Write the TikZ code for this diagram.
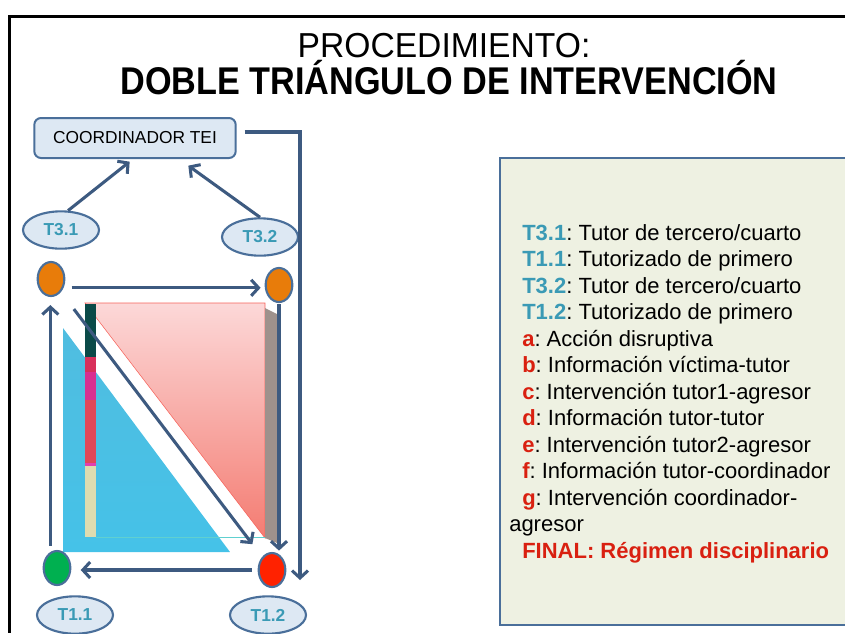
\documentclass[tikz,border=0pt]{standalone}
\usepackage{fontspec}
\setmainfont{Liberation Sans}
\usetikzlibrary{arrows.meta,shapes.geometric}
\frenchspacing

\definecolor{azul}{HTML}{3D5A80}
\definecolor{bordeazul}{HTML}{4A6F9A}
\definecolor{celeste}{HTML}{DDE8F3}
\definecolor{turquesa}{HTML}{3A9AB5}
\definecolor{rojo}{HTML}{D92010}
\definecolor{naranja}{HTML}{E87C0A}
\definecolor{verde}{HTML}{00B050}
\definecolor{rojovivo}{HTML}{FF2200}
\definecolor{fondoley}{HTML}{EEF1E2}
\definecolor{rosa1}{HTML}{FCD8D8}
\definecolor{rosa2}{HTML}{F47C72}
\definecolor{cian1}{HTML}{50BDE0}
\definecolor{cian2}{HTML}{1FA5D2}
\definecolor{cian3}{HTML}{45C2E8}
\definecolor{sombra}{HTML}{9E918C}
\definecolor{franja1}{HTML}{0A4A48}
\definecolor{franja2}{HTML}{D8305A}
\definecolor{franja3}{HTML}{D83090}
\definecolor{franja4}{HTML}{E04858}
\definecolor{franja5}{HTML}{E040B0}
\definecolor{franja6}{HTML}{DEDCB0}
\definecolor{linea}{HTML}{60D0D0}

\begin{document}
\begin{tikzpicture}[x=0.75pt,y=-0.75pt,
    flecha/.style={draw=azul, line width=2.3pt, -{Straight Barb[length=5.5pt,width=12pt]}},
    tutor/.style={ellipse, draw=bordeazul, line width=1.6pt, fill=celeste, text=turquesa,
      font=\bfseries\fontsize{13}{15}\selectfont, minimum width=57pt, minimum height=28pt, inner sep=0pt},
    alumno/.style={ellipse, draw=bordeazul, line width=1.6pt, minimum width=20pt,
      minimum height=25.5pt, inner sep=0pt}]
    \useasboundingbox (0,0) rectangle (845,633);

    % Frame
    \draw[line width=2.25pt] (845,16) -- (9,16) -- (9,633);

    % Title
    \node[anchor=base] (titulo) at (444,57)
      {\fontsize{26}{30}\selectfont\scalebox{0.97}[1]{PROCEDIMIENTO:}};
    \node[anchor=base] (subtitulo) at (449,94)
      {\bfseries\fontsize{29}{32}\selectfont\scalebox{0.885}[1]{DOBLE TRIÁNGULO DE INTERVENCIÓN}};

    % Triangles
    \shade[top color=rosa1, bottom color=rosa2] (85,303) -- (265,303) -- (265,538) -- cycle;
    \draw[rosa2!80!red, line width=0.4pt] (85,303) -- (265,303) -- (265,538) -- cycle;
    \fill[sombra] (265,308) -- (277,314) -- (277,543) -- (265,538) -- cycle;
    \shade[top color=cian1, middle color=cian2, bottom color=cian3] (63,328) -- (63,552) -- (230,552) -- cycle;

    % Strip
    \fill[franja1] (85,304) rectangle (96,357);
    \fill[franja2] (85,357) rectangle (96,372);
    \fill[franja3] (85,372) rectangle (96,400);
    \fill[franja4] (85,400) rectangle (96,463);
    \fill[franja5] (85,463) rectangle (96,466);
    \fill[franja6] (85,466) rectangle (96,537);
    \draw[linea, line width=0.6pt] (96,537) -- (265,537);

    % Coordinator and tutors
    \node[draw=bordeazul, line width=1.5pt, fill=celeste, rounded corners=5pt,
      minimum width=151pt, minimum height=30pt, font=\fontsize{13}{15}\selectfont] (coord) at (135,138) {COORDINADOR TEI};
    \node[tutor] (t31) at (61,230) {T3.1};
    \node[tutor] (t32) at (260,237) {T3.2};
    \node[tutor] (t11) at (75,615) {T1.1};
    \node[tutor] (t12) at (268,615) {T1.2};

    \node[alumno, fill=naranja] (o1) at (51,279) {};
    \node[alumno, fill=naranja] (o2) at (279,285) {};
    \node[alumno, fill=verde] (g) at (57,568) {};
    \node[alumno, fill=rojovivo] (r) at (272,570) {};
    \coordinate (fin) at (300,580);

    % Arrows
    \draw[flecha] (t31.70) -- ([xshift=-4pt,yshift=-2pt]coord.south);
    \draw[flecha] (t32.north) -- ([xshift=40pt,yshift=-5pt]coord.south);
    \draw[flecha, shorten <=6pt, shorten >=3pt] (o1.-35) -- (o1.-35 -| o2.west);
    \draw[flecha, shorten <=3pt, shorten >=6pt] ([xshift=-5pt]g.north) -- ([xshift=-5pt]g.north |- o1.south);
    \draw[flecha, shorten <=1pt, shorten >=1pt] (o2.south) -- (o2.south |- r.north);
    \draw[flecha, shorten <=4.5pt, shorten >=7pt] (r.west) -- (r.west -| g.east);
    \draw[flecha, shorten <=16pt, shorten >=12pt] (o1) -- (r);
    \draw[flecha] ([xshift=6pt,yshift=4.5pt]coord.east) -| (fin);

    % Legend
    \fill[fondoley, draw=bordeazul, line width=1.5pt] (500,158) rectangle (852,625);
    \node[anchor=north west, inner sep=0pt, align=left, font=\fontsize{16.5}{19.875}\selectfont] (leyenda) at (509,224)
      {\hspace*{9.75pt}{\color{turquesa}\bfseries T3.1}: Tutor de tercero/cuarto\\
       \hspace*{9.75pt}{\color{turquesa}\bfseries T1.1}: Tutorizado de primero\\
       \hspace*{9.75pt}{\color{turquesa}\bfseries T3.2}: Tutor de tercero/cuarto\\
       \hspace*{9.75pt}{\color{turquesa}\bfseries T1.2}: Tutorizado de primero\\
       \hspace*{9.75pt}{\color{rojo}\bfseries a}: Acción disruptiva\\
       \hspace*{9.75pt}{\color{rojo}\bfseries b}: Información víctima-tutor\\
       \hspace*{9.75pt}{\color{rojo}\bfseries c}: Intervención tutor1-agresor\\
       \hspace*{9.75pt}{\color{rojo}\bfseries d}: Información tutor-tutor\\
       \hspace*{9.75pt}{\color{rojo}\bfseries e}: Intervención tutor2-agresor\\
       \hspace*{9.75pt}{\color{rojo}\bfseries f}: Información tutor-coordinador\\
       \hspace*{9.75pt}{\color{rojo}\bfseries g}: Intervención coordinador-\\
       agresor\\
       \hspace*{9.75pt}{\color{rojo}\bfseries FINAL: Régimen disciplinario}};
\end{tikzpicture}
\end{document}
